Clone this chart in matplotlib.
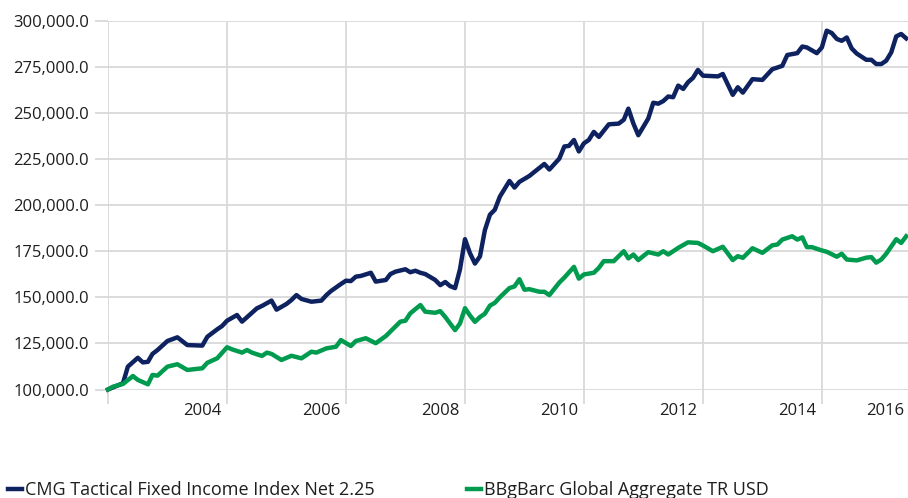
### Bibliotecas ###
import pandas as pd
import matplotlib
matplotlib.use('Agg')
import matplotlib.pyplot as plt
from matplotlib.ticker import FuncFormatter

plt.rcParams['font.family'] = ['Open Sans', 'DejaVu Sans']

### Dados (valor da carteira, fim de mês) ###
cmg_meses = ['2002-05', '2002-08', '2002-09', '2002-11', '2002-12', '2003-01', '2003-02', '2003-03',
             '2003-05', '2003-07', '2003-09', '2003-12', '2004-01', '2004-03', '2004-04', '2004-05',
             '2004-07', '2004-08', '2004-11', '2004-12', '2005-02', '2005-03', '2005-05', '2005-06',
             '2005-07', '2005-08', '2005-10', '2005-12', '2006-01', '2006-02', '2006-04', '2006-05',
             '2006-06', '2006-07', '2006-08', '2006-10', '2006-11', '2007-01', '2007-02', '2007-03',
             '2007-05', '2007-06', '2007-07', '2007-08', '2007-09', '2007-11', '2007-12', '2008-01',
             '2008-02', '2008-03', '2008-04', '2008-05', '2008-06', '2008-07', '2008-08', '2008-09',
             '2008-10', '2008-11', '2008-12', '2009-02', '2009-03', '2009-04', '2009-06', '2009-07',
             '2009-09', '2009-10', '2009-12', '2010-01', '2010-02', '2010-03', '2010-04', '2010-05',
             '2010-06', '2010-07', '2010-08', '2010-10', '2010-12', '2011-01', '2011-02', '2011-03',
             '2011-04', '2011-06', '2011-07', '2011-08', '2011-09', '2011-10', '2011-11', '2011-12',
             '2012-01', '2012-02', '2012-03', '2012-04', '2012-05', '2012-08', '2012-09', '2012-11',
             '2012-12', '2013-01', '2013-03', '2013-05', '2013-07', '2013-09', '2013-10', '2013-12',
             '2014-01', '2014-02', '2014-04', '2014-05', '2014-06', '2014-07', '2014-08', '2014-09',
             '2014-10', '2014-11', '2014-12', '2015-02', '2015-03', '2015-04', '2015-05', '2015-06',
             '2015-07', '2015-08', '2015-09', '2015-10']
cmg_valores = [100000, 103400, 112400, 117200, 114700, 115000, 119300, 121400,
               126300, 128300, 124100, 123800, 128600, 132600, 134400, 137300,
               140400, 136800, 144000, 145300, 148200, 143300, 146400, 148500,
               151200, 149100, 147600, 148200, 151200, 153400, 157200, 159000,
               158800, 161200, 161600, 163300, 158500, 159400, 162600, 163900,
               165200, 163600, 164400, 163300, 162600, 159400, 156600, 158300,
               156100, 155000, 165100, 181500, 174000, 168300, 172200, 186400,
               194800, 197500, 204600, 213100, 209500, 212600, 215800, 218000,
               222300, 219300, 225200, 231800, 232100, 235300, 229100, 233500,
               235300, 239700, 237000, 243800, 244200, 246300, 252300, 244200,
               237900, 246900, 255500, 255000, 256400, 258900, 258500, 264800,
               263000, 266600, 269000, 273300, 270200, 269800, 271100, 259800,
               263900, 261000, 268300, 267900, 273700, 275500, 281400, 282400,
               286000, 285500, 282400, 285500, 294600, 293300, 290100, 289100,
               290900, 285000, 282200, 278800, 278800, 276500, 276500, 278300,
               282800, 291500, 292800, 290400]

bb_meses = ['2002-05', '2002-06', '2002-08', '2002-10', '2002-11', '2003-01', '2003-02', '2003-03',
            '2003-05', '2003-07', '2003-09', '2003-12', '2004-01', '2004-03', '2004-05', '2004-06',
            '2004-08', '2004-09', '2004-10', '2004-12', '2005-01', '2005-02', '2005-04', '2005-06',
            '2005-08', '2005-10', '2005-11', '2006-01', '2006-03', '2006-04', '2006-06', '2006-07',
            '2006-09', '2006-11', '2007-01', '2007-04', '2007-05', '2007-06', '2007-08', '2007-09',
            '2007-11', '2007-12', '2008-01', '2008-03', '2008-04', '2008-05', '2008-06', '2008-07',
            '2008-08', '2008-09', '2008-10', '2008-11', '2008-12', '2009-02', '2009-03', '2009-04',
            '2009-05', '2009-06', '2009-08', '2009-09', '2009-10', '2009-12', '2010-01', '2010-03',
            '2010-04', '2010-05', '2010-07', '2010-08', '2010-09', '2010-11', '2011-01', '2011-02',
            '2011-03', '2011-04', '2011-06', '2011-08', '2011-09', '2011-10', '2011-12', '2012-02',
            '2012-04', '2012-05', '2012-07', '2012-09', '2012-11', '2012-12', '2013-01', '2013-03',
            '2013-05', '2013-07', '2013-08', '2013-09', '2013-11', '2013-12', '2014-01', '2014-02',
            '2014-03', '2014-05', '2014-06', '2014-08', '2014-09', '2014-10', '2014-12', '2015-02',
            '2015-03', '2015-04', '2015-05', '2015-06', '2015-08', '2015-09', '2015-10']
bb_valores = [100000, 101500, 103000, 107300, 105200, 102800, 107900, 107500,
              112400, 113700, 110600, 111500, 114500, 116900, 122900, 121800,
              120000, 121400, 120000, 118200, 120000, 119300, 116000, 118300,
              116900, 120500, 120000, 122300, 123200, 126800, 123600, 126300,
              127800, 125100, 129000, 136800, 137300, 141300, 145800, 142200,
              141600, 142500, 139300, 132200, 135800, 144100, 140200, 136700,
              139300, 141100, 145500, 147000, 150000, 155000, 155900, 159800,
              154100, 154400, 153000, 153000, 151200, 158000, 160700, 166500,
              160100, 162400, 163300, 166000, 169600, 169600, 175000, 171100,
              173200, 170200, 174500, 173200, 175000, 173200, 176800, 179800,
              179500, 178100, 175000, 177400, 170200, 172300, 171400, 176600,
              174100, 178200, 178600, 181300, 183100, 181300, 182500, 177200,
              177200, 175400, 174700, 172000, 173600, 170500, 170000, 171500,
              171800, 168800, 170500, 173600, 181500, 179500, 183100]

nome_cmg = 'CMG Tactical Fixed Income Index Net 2.25'
nome_bb = 'BBgBarc Global Aggregate TR USD'
anos = [2004, 2006, 2008, 2010, 2012, 2014]


def fim_mes(meses):
    return pd.to_datetime(meses) + pd.offsets.MonthEnd(0)


### Figura ###
fig = plt.figure(figsize=(9.08, 4.98), dpi=100)
ax = fig.add_axes([108 / 908, 108.5 / 498, 800 / 908, 368.8 / 498])
cinza = '#D9D9D9'
cor_txt = '#1E1E1E'

l1, = ax.plot(fim_mes(cmg_meses), cmg_valores, color='#0F2260', lw=3.2,
              solid_joinstyle='round', clip_on=False, zorder=3)
l2, = ax.plot(fim_mes(bb_meses), bb_valores, color='#009B4E', lw=3.2,
              solid_joinstyle='round', clip_on=False, zorder=3)

### Eixos ###
ax.set_xlim(pd.Timestamp('2002-05-31'), pd.Timestamp('2015-11-11'))
ax.set_ylim(100000, 300000)
ax.set_yticks(range(100000, 300001, 25000))
ax.yaxis.set_major_formatter(FuncFormatter(lambda v, p: f'{v:,.1f}'))

ax.set_xticks([pd.Timestamp(f'{a}-01-01') for a in anos])
ax.set_xticklabels([str(a) for a in anos])
ax.set_xticks([pd.Timestamp(f'{a}-05-31') for a in range(2002, 2016, 2)], minor=True)

ax.grid(which='minor', axis='x', color=cinza, lw=1.3)
ax.grid(which='major', axis='y', color=cinza, lw=1.3)
ax.tick_params(axis='y', length=9.5, width=1.3, color=cinza, pad=4,
               labelsize=12, labelcolor=cor_txt)
ax.tick_params(axis='x', which='minor', length=10, width=1.3, color=cinza)
ax.tick_params(axis='x', which='major', length=0, pad=10,
               labelsize=12, labelcolor=cor_txt)
for s in ax.spines.values():
    s.set_visible(False)
ax.set_axisbelow(True)

# ultimo rotulo fica colado na borda direita
ax.annotate('2016', xy=(1, 0), xycoords='axes fraction', xytext=(-3, -10),
            textcoords='offset points', ha='right', va='top',
            fontsize=12, color=cor_txt)

### Legenda ###
for linha, nome, x0 in [(l1, nome_cmg, 8 / 908), (l2, nome_bb, 467 / 908)]:
    fig.legend([linha], [nome], loc='lower left', bbox_to_anchor=(x0, -0.003),
               frameon=False, fontsize=13, handlelength=0.78, handletextpad=0.17,
               borderpad=0, borderaxespad=0, labelcolor=cor_txt)

fig.savefig('out.png', dpi=100)
